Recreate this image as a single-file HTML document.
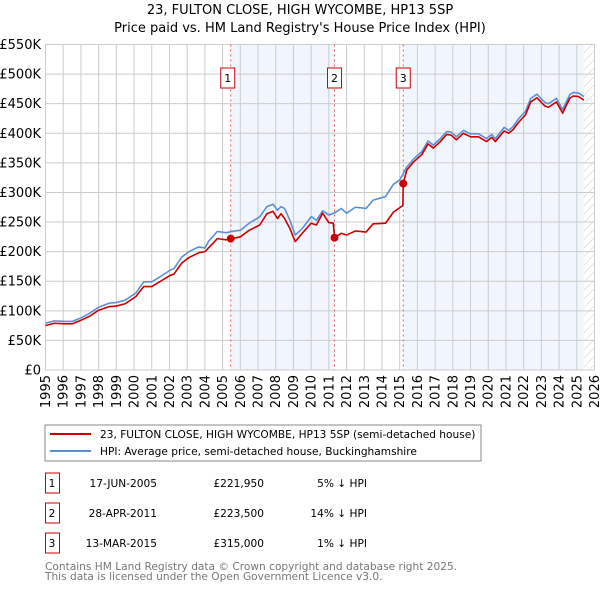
<!DOCTYPE html>
<html><head><meta charset="utf-8"><style>
body{margin:0;background:#fff;font-family:"DejaVu Sans","Liberation Sans",sans-serif;}
svg text{font-family:"DejaVu Sans","Liberation Sans",sans-serif;}
</style></head><body>
<svg id="c" width="600" height="590" viewBox="0 0 600 590" xmlns="http://www.w3.org/2000/svg">
<defs><pattern id="hatch" width="6" height="6" patternUnits="userSpaceOnUse" patternTransform="rotate(45)"><line x1="0" y1="0" x2="0" y2="6" stroke="#ccc" stroke-width="1"/></pattern></defs>
<text x="300" y="14" text-anchor="middle" font-size="13" fill="#000">23, FULTON CLOSE, HIGH WYCOMBE, HP13 5SP</text>
<text x="300" y="32" text-anchor="middle" font-size="13" fill="#000">Price paid vs. HM Land Registry's House Price Index (HPI)</text>
<g id="plot"></g>
<rect x="45" y="425" width="436" height="36" fill="#fff" stroke="#888"/>
<line x1="50" y1="434" x2="91" y2="434" stroke="#cc0000" stroke-width="2"/>
<text x="100" y="438" font-size="10.6">23, FULTON CLOSE, HIGH WYCOMBE, HP13 5SP (semi-detached house)</text>
<line x1="50" y1="451" x2="91" y2="451" stroke="#5b8fd4" stroke-width="2"/>
<text x="100" y="455" font-size="10.6">HPI: Average price, semi-detached house, Buckinghamshire</text>
<g id="table"></g>
<text x="45" y="570" font-size="10.6" fill="#777">Contains HM Land Registry data © Crown copyright and database right 2025.</text>
<text x="45" y="580" font-size="10.6" fill="#777">This data is licensed under the Open Government Licence v3.0.</text>
</svg>
<script>
const hpiYears=[1995,1995.5,1996.1,1996.5,1997,1997.5,1998,1998.6,1999,1999.5,2000.1,2000.55,2001,2001.5,2002.05,2002.25,2002.7,2003.1,2003.65,2004,2004.2,2004.7,2005.2,2005.7,2006,2006.5,2007.1,2007.5,2007.85,2008.1,2008.3,2008.5,2008.8,2009.1,2009.5,2010,2010.3,2010.65,2011,2011.3,2011.7,2012,2012.5,2013.1,2013.5,2014.2,2014.65,2015,2015.4,2015.8,2016.25,2016.6,2016.9,2017.3,2017.65,2017.9,2018.2,2018.6,2019,2019.45,2019.9,2020.2,2020.4,2020.9,2021.15,2021.4,2021.7,2022.1,2022.4,2022.75,2023.2,2023.4,2023.85,2024.2,2024.6,2024.8,2025.1,2025.4];
const hpiValues=[79,83,82,82,88,96,106,113,114,118,130,149,149,158,169,171,191,200,208,206,217,234,232,235,236,248,259,276,280,270,276,273,253,228,239,259,253,269,262,265,273,265,275,273,287,293,314,321,343,357,369,387,380,391,403,402,394,405,399,399,391,398,391,410,405,411,424,437,459,466,452,450,459,440,465,469,468,462];
const priceYears=[1995,1995.5,1996.1,1996.5,1997,1997.5,1998,1998.6,1999,1999.5,2000.1,2000.55,2001,2001.5,2002.05,2002.25,2002.7,2003.1,2003.65,2004,2004.2,2004.7,2005.2,2005.7,2006,2006.5,2007.1,2007.5,2007.85,2008.1,2008.3,2008.5,2008.8,2009.1,2009.5,2010,2010.3,2010.65,2011,2011.25,2011.32,2011.7,2012,2012.5,2013.1,2013.5,2014.2,2014.65,2015.18,2015.2,2015.4,2015.8,2016.25,2016.6,2016.9,2017.3,2017.65,2017.9,2018.2,2018.6,2019,2019.45,2019.9,2020.2,2020.4,2020.9,2021.15,2021.4,2021.7,2022.1,2022.4,2022.75,2023.2,2023.4,2023.85,2024.2,2024.6,2024.8,2025.1,2025.4];
const priceValues=[75,79,78,78,84,91,101,107,108,112,124,141,141,150,160,162,181,190,198,200,206,222,220,223,225,236,245,264,268,256,264,256,239,217,231,248,245,265,249,248,223.5,231,228,235,233,247,248,267,278,315,338,352,364,382,375,386,398,397,389,400,394,394,386,393,386,404,400,406,418,431,453,460,446,444,453,434,459,463,462,456];
const saleLabels=["1","2","3"];
const saleYears=[2005.46,2011.32,2015.2];
const salePrices=[221.95,223.5,315];
const saleDates=["17-JUN-2005","28-APR-2011","13-MAR-2015"];
const salePriceText=["£221,950","£223,500","£315,000"];
const saleHpiText=["5% ↓ HPI","14% ↓ HPI","1% ↓ HPI"];
const yTicks=[0,50,100,150,200,250,300,350,400,450,500,550];
const yTickLabels=["£0","£50K","£100K","£150K","£200K","£250K","£300K","£350K","£400K","£450K","£500K","£550K"];
const xTicks=[1995,1996,1997,1998,1999,2000,2001,2002,2003,2004,2005,2006,2007,2008,2009,2010,2011,2012,2013,2014,2015,2016,2017,2018,2019,2020,2021,2022,2023,2024,2025,2026];
const dataEnd=2025.4;

const NS="http://www.w3.org/2000/svg";
const X0=45.5,X1=594.5,Y0=370,Y1=44.5;
const xs=y=>X0+(y-1995)/(2026-1995)*(X1-X0);
const ys=v=>Y0-v/550*(Y0-Y1);
const plot=document.getElementById('plot');
function mk(tag,attrs,parent){const e=document.createElementNS(NS,tag);for(const k in attrs)e.setAttribute(k,attrs[k]);(parent||plot).appendChild(e);return e;}

let sh=mk('rect',{x:xs(saleYears[0]),y:Y1,width:xs(saleYears[1])-xs(saleYears[0]),height:Y0-Y1,fill:'#eef3fc',opacity:0.8});


sh=mk('rect',{x:xs(saleYears[2]),y:Y1,width:xs(dataEnd)-xs(saleYears[2]),height:Y0-Y1,fill:'#eef3fc',opacity:0.8});


let ht=mk('rect',{x:xs(dataEnd),y:Y1,width:X1-xs(dataEnd),height:Y0-Y1,fill:'url(#hatch)'});



yTicks.forEach((v,i)=>{
  const l=mk('line',{x1:X0,x2:X1,y1:ys(v),y2:ys(v),stroke:'#ccc','stroke-width':1});
  
  
  const t=mk('text',{x:41,y:ys(v)+4.5,'text-anchor':'end','font-size':13,fill:'#000'});
  t.textContent=yTickLabels[i];
  
  
});
xTicks.forEach(yr=>{
  const l=mk('line',{x1:xs(yr),x2:xs(yr),y1:Y1,y2:Y0,stroke:'#ccc','stroke-width':1});
  
  
  const t=mk('text',{x:0,y:0,'text-anchor':'end','font-size':13,fill:'#000',transform:`translate(${xs(yr)+4.5},375) rotate(-90)`});
  t.textContent=yr;
  
  
});
let ax=mk('rect',{x:X0,y:Y1,width:X1-X0,height:Y0-Y1,fill:'none',stroke:'#ccc'});



saleYears.forEach((yr,i)=>{
  const l=mk('line',{x1:xs(yr),x2:xs(yr),y1:Y1,y2:Y0,stroke:'#e06060','stroke-width':1,'stroke-dasharray':'2,3'});
  
  
  const b=mk('rect',{x:xs(yr)-7-(i==0?3:0),y:68,width:14,height:20,fill:'#fff',stroke:'#cc0000'});
  
  
  const t=mk('text',{x:xs(yr)-(i==0?3:0),y:82,'text-anchor':'middle','font-size':11});
  t.textContent=saleLabels[i];
  
  
});

const hp=mk('polyline',{points:hpiYears.map((y,i)=>xs(y)+','+ys(hpiValues[i])).join(' '),fill:'none',stroke:'#5b8fd4','stroke-width':1.6,'stroke-linejoin':'round'});


const pp=mk('polyline',{points:priceYears.map((y,i)=>xs(y)+','+ys(priceValues[i])).join(' '),fill:'none',stroke:'#cc0000','stroke-width':1.6,'stroke-linejoin':'round'});


saleYears.forEach((yr,i)=>{
  const c=mk('circle',{cx:xs(yr),cy:ys(salePrices[i]),r:4,fill:'#cc0000'});
  
  
});

const tbl=document.getElementById('table');
saleLabels.forEach((lb,i)=>{
  const yy=483+i*30;
  const b=mk('rect',{x:45.5,y:yy-10,width:14,height:20,fill:'#fff',stroke:'#cc0000'},tbl);
  
  
  const cells=[[52,'middle',lb],[157,'end',saleDates[i]],[264,'end',salePriceText[i]],[367,'end',saleHpiText[i]]];
  cells.forEach((c,j)=>{
    const t=mk('text',{x:c[0],y:yy+4,'text-anchor':c[1],'font-size':10.6},tbl);
    t.textContent=c[2];
    
    
  });
});
</script>
</body></html>
